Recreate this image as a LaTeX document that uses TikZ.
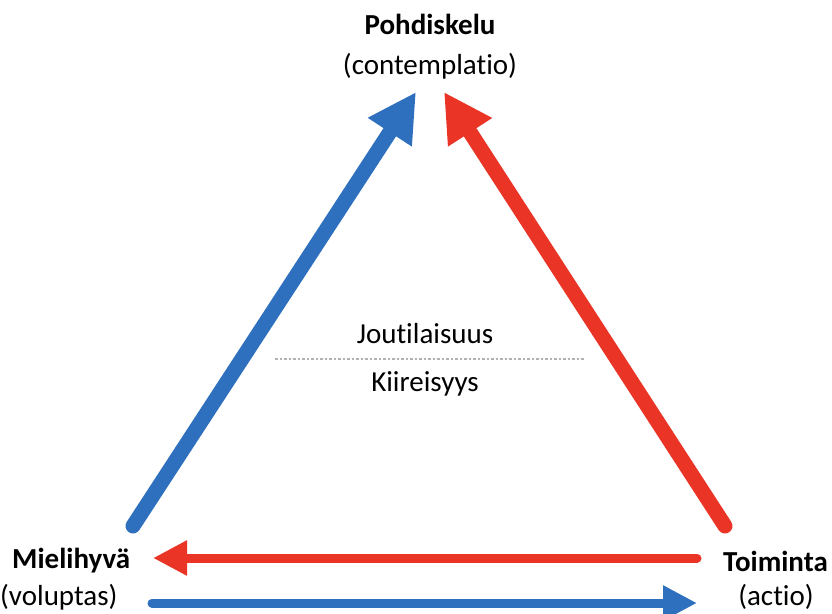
\documentclass[tikz,border=0pt]{standalone}
\usepackage{fontspec}
\setmainfont{Carlito}[Ligatures=NoCommon]
\usetikzlibrary{arrows.meta}
\definecolor{myblue}{RGB}{46,112,190}
\definecolor{myred}{RGB}{233,52,38}
\begin{document}
\begin{tikzpicture}[x=1pt,y=-1pt,
  lbl/.style={inner sep=0pt,font=\fontsize{29}{34}\selectfont},
  blbl/.style={lbl,font=\fontsize{29}{34}\selectfont\bfseries},
  diag/.style={line width=15pt,line cap=round,-{Triangle[length=48pt,width=49pt]}},
  horiz/.style={line width=9pt,line cap=round,-{Triangle[length=34pt,width=33pt]}}]
\useasboundingbox (0,0) rectangle (832,613);
\node[blbl] (p1) at (430,24) {Pohdiskelu};
\node[lbl] (p2) at (430,66) {(contemplatio)};
\node[blbl,anchor=west] (m1) at (12,561) {Mielihyvä};
\node[lbl,anchor=west] (m2) at (0,597) {(voluptas)};
\node[blbl,anchor=east] (t1) at (828,561) {Toiminta};
\node[lbl] (t2) at (776,597) {(actio)};
\node[lbl] (j) at (425,334) {Joutilaisuus};
\node[lbl] (k) at (425,384) {Kiireisyys};
\coordinate (d1) at (275,359);
\coordinate (d2) at (585,359);
\draw[gray!60,line width=2.5pt,dash pattern=on 2.5pt off 2pt] (d1) -- (d2);
\coordinate (bs) at (133,526);
\coordinate (bt) at (416,92);
\coordinate (rs) at (725,526);
\coordinate (rt) at (444,92);
\coordinate (hs) at (697,558);
\coordinate (ht) at (153,558);
\coordinate (gs) at (152,603);
\coordinate (gt) at (697,603);
\draw[diag,myblue] (bs) -- (bt);
\draw[diag,myred] (rs) -- (rt);
\draw[horiz,myred] (hs) -- (ht);
\draw[horiz,myblue] (gs) -- (gt);
\end{tikzpicture}
\end{document}
